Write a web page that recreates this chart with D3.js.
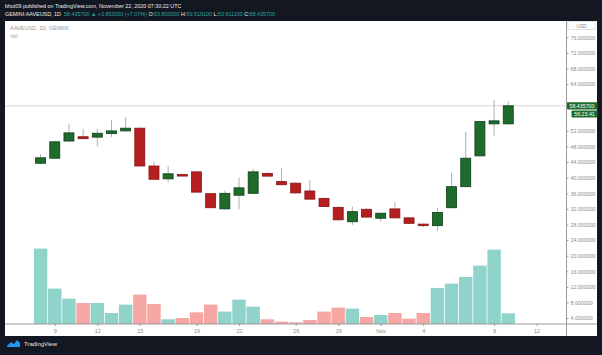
<!DOCTYPE html>
<html>
<head>
<meta charset="utf-8">
<script src="https://cdn.jsdelivr.net/npm/d3@7"></script>
<style>
  html, body { margin: 0; padding: 0; background: #131722; }
  svg { display: block; font-family: "Liberation Sans", Arial, sans-serif; }
</style>
</head>
<body>
<svg id="chart" width="602" height="355"></svg>
<script>
// ---------------- data ----------------
const dates = ["2020-10-08","2020-10-09","2020-10-10","2020-10-11","2020-10-12","2020-10-13","2020-10-14",
  "2020-10-15","2020-10-16","2020-10-17","2020-10-18","2020-10-19","2020-10-20","2020-10-21","2020-10-22",
  "2020-10-23","2020-10-24","2020-10-25","2020-10-26","2020-10-27","2020-10-28","2020-10-29","2020-10-30",
  "2020-10-31","2020-11-01","2020-11-02","2020-11-03","2020-11-04","2020-11-05","2020-11-06","2020-11-07",
  "2020-11-08","2020-11-09","2020-11-10"];
const open  = [43.7, 45.0, 49.4, 50.5, 50.4, 51.3, 52.0, 52.7, 43.0, 39.7, 40.8, 41.5, 35.9, 32.0, 35.5, 36.0, 41.1,
  39.0, 38.6, 36.6, 34.7, 32.4, 28.7, 31.9, 29.6, 32.0, 29.7, 28.1, 27.7, 32.3, 37.7, 45.6, 53.8, 53.8];
const high  = [46.0, 49.4, 53.8, 52.5, 52.5, 54.8, 55.5, 52.9, 44.1, 43.0, 41.0, 41.7, 36.1, 36.7, 40.0, 42.3, 41.4,
  42.4, 38.8, 39.4, 34.9, 32.6, 32.6, 32.2, 31.0, 33.7, 29.9, 28.3, 32.2, 41.3, 51.8, 54.5, 59.9, 59.5191];
const low   = [43.5, 44.9, 49.3, 49.9, 48.0, 50.4, 51.7, 42.9, 39.4, 38.8, 40.5, 36.1, 32.1, 31.9, 31.9, 35.8, 40.2,
  38.0, 35.9, 34.4, 32.4, 29.0, 27.9, 29.7, 28.7, 29.5, 28.1, 27.3, 26.3, 32.1, 37.5, 45.4, 50.8, 53.6111];
const close = [45.1, 49.2, 51.5, 50.0, 51.4, 52.0, 52.7, 43.0, 39.6, 41.0, 40.7, 36.3, 32.3, 36.0, 37.4, 41.5, 40.4,
  38.2, 36.1, 34.5, 32.6, 29.2, 31.3, 29.9, 30.9, 29.7, 28.3, 27.7, 31.1, 37.7, 45.0, 54.4, 54.58, 58.4357];
const volume = [150800, 70800, 50800, 42000, 42000, 22000, 38800, 58800, 40000, 9400, 12000, 23400, 38800, 24800,
  48800, 34800, 9400, 4800, 3400, 8000, 24800, 32800, 30800, 14000, 18000, 22000, 10800, 22000, 72000, 80800,
  94000, 116800, 148800, 21400];
const xTickDates  = ["2020-10-09","2020-10-12","2020-10-15","2020-10-19","2020-10-22","2020-10-26","2020-10-29",
  "2020-11-01","2020-11-04","2020-11-09","2020-11-12"];
const xTickLabels = ["9","12","15","19","22","26","29","Nov","4","9","12"];
const priceTicks  = [4, 8, 12, 16, 20, 24, 28, 32, 36, 40, 44, 48, 52, 64, 68, 72, 76];
const lastPrice = 58.4357;
const countdown = "56:23:41";

// ---------------- layout ----------------
const svg = d3.select("#chart");
const W = 602, H = 355;
const plotL = 5, plotR = 597, plotT = 21, plotB = 336;
const axisX = 566.5, axisY = 324;

svg.append("rect").attr("x", 0).attr("y", 0).attr("width", W).attr("height", H).attr("fill", "#131722");
svg.append("rect").attr("x", plotL).attr("y", plotT).attr("width", plotR - plotL).attr("height", plotB - plotT).attr("fill", "#ffffff");

const parse = d3.utcParse("%Y-%m-%d");
const x = d3.scaleUtc()
  .domain([parse("2020-10-08"), parse("2020-11-12")])
  .range([40.6, 536.6]);
const y = d3.scaleLinear().domain([4, 76]).range([318.1, 37.3]);
const yv = d3.scaleLinear().domain([0, 160000]).range([axisY, axisY - 80]);

const data = dates.map((d, i) => ({ date: parse(d), o: open[i], h: high[i], l: low[i], c: close[i], v: volume[i] }));

// price line
svg.append("line").attr("x1", plotL).attr("x2", axisX).attr("y1", y(lastPrice)).attr("y2", y(lastPrice))
  .attr("stroke", "#d6d6d6").attr("stroke-width", 1);

// volume bars
const volW = 13.4;
svg.append("g").selectAll("rect").data(data).join("rect")
  .attr("x", d => x(d.date) - volW / 2)
  .attr("y", d => yv(d.v))
  .attr("width", volW)
  .attr("height", d => axisY - yv(d.v))
  .attr("fill", d => d.c >= d.o ? "#8fd3cb" : "#f6a6a3");

// candles
const bodyW = 10;
const cg = svg.append("g");
cg.selectAll("line").data(data).join("line")
  .attr("x1", d => x(d.date)).attr("x2", d => x(d.date))
  .attr("y1", d => y(d.h)).attr("y2", d => y(d.l))
  .attr("stroke", "#b0b0b0").attr("stroke-width", 1);
cg.selectAll("rect").data(data).join("rect")
  .attr("x", d => x(d.date) - bodyW / 2)
  .attr("y", d => y(Math.max(d.o, d.c)))
  .attr("width", bodyW)
  .attr("height", d => Math.max(1.5, Math.abs(y(d.o) - y(d.c))))
  .attr("fill", d => d.c >= d.o ? "#1e6b2c" : "#b51f1f")
  .attr("stroke", d => d.c >= d.o ? "#0f3f18" : "#861313")
  .attr("stroke-width", 0.8);

// x axis
svg.append("line").attr("x1", plotL).attr("x2", plotR).attr("y1", axisY).attr("y2", axisY)
  .attr("stroke", "#9a9a9a").attr("stroke-width", 1);
const xAxis = d3.axisBottom(x)
  .tickValues(xTickDates.map(parse))
  .tickFormat((d, i) => xTickLabels[i])
  .tickSize(2).tickPadding(3);
const gx = svg.append("g").attr("transform", `translate(0,${axisY})`).call(xAxis);
gx.select(".domain").remove();
gx.selectAll(".tick line").attr("stroke", "#9a9a9a");
gx.selectAll(".tick text").attr("fill", "#8a8a8a").attr("font-size", 5.5)
  .attr("font-family", "Liberation Sans, Arial, sans-serif");

// y axis
svg.append("line").attr("x1", axisX).attr("x2", axisX).attr("y1", plotT).attr("y2", plotB)
  .attr("stroke", "#9a9a9a").attr("stroke-width", 1);
const yAxis = d3.axisRight(y).tickValues(priceTicks).tickFormat(d3.format(".6f")).tickSize(2).tickPadding(2);
const gy = svg.append("g").attr("transform", `translate(${axisX},0)`).call(yAxis);
gy.select(".domain").remove();
gy.selectAll(".tick line").attr("stroke", "#9a9a9a");
gy.selectAll(".tick text").attr("fill", "#8a8a8a").attr("font-size", 5.3)
  .attr("font-family", "Liberation Sans, Arial, sans-serif");

// USD box
svg.append("rect").attr("x", 568).attr("y", 21.5).attr("width", 27).attr("height", 8)
  .attr("fill", "#fff").attr("stroke", "#d0d0d0").attr("stroke-width", 0.6);
svg.append("text").attr("x", 581.5).attr("y", 27.5).attr("text-anchor", "middle")
  .attr("font-size", 4.8).attr("fill", "#8a8a8a").text("USD");

// last price labels
const ly = y(lastPrice);
svg.append("rect").attr("x", 567).attr("y", ly - 3.6).attr("width", 30.5).attr("height", 7.2)
  .attr("fill", "#1e6b2c").attr("rx", 0.8);
svg.append("text").attr("x", 582).attr("y", ly + 2).attr("text-anchor", "middle")
  .attr("font-size", 5.3).attr("fill", "#ffffff").text(d3.format(".6f")(lastPrice));
svg.append("rect").attr("x", 571.5).attr("y", ly + 4.8).attr("width", 26).attr("height", 6.8)
  .attr("fill", "#1e6b2c").attr("rx", 0.8);
svg.append("text").attr("x", 584.5).attr("y", ly + 10.2).attr("text-anchor", "middle")
  .attr("font-size", 5.3).attr("fill", "#ffffff").text(countdown);

// chart legend
svg.append("text").attr("x", 10).attr("y", 30).attr("font-size", 5.5).attr("fill", "#9a9a9a").text("AAVEUSD, 1D, GEMINI");
svg.append("text").attr("x", 10).attr("y", 37.5).attr("font-size", 5.5).attr("fill", "#9a9a9a").text("Vol");

// header
svg.append("text").attr("x", 5).attr("y", 8).attr("font-size", 5.4).attr("fill", "#ececec")
  .text("bhot09 published on TradingView.com, November 22, 2020 07:30:22 UTC");
const h2 = svg.append("text").attr("x", 5).attr("y", 16.3).attr("font-size", 5.4).attr("fill", "#ececec");
const teal = "#26a69a";
[["GEMINI:AAVEUSD, 1D  ", "#ececec"], ["58.435700 ▲ +3.853000 (+7.07%) ", teal],
 ["O:", "#ececec"], ["53.800000 ", teal], ["H:", "#ececec"], ["59.519100 ", teal],
 ["L:", "#ececec"], ["53.611100 ", teal], ["C:", "#ececec"], ["58.435700", teal]]
  .forEach(([t, c]) => h2.append("tspan").attr("fill", c).attr("xml:space", "preserve").text(t));

// footer logo
const logo = svg.append("g").attr("transform", "translate(7,340)");
logo.append("path").attr("d", "M0,6 L4,2 L7,4 L10,0 L13,3 L13,7 L0,7 Z").attr("fill", "#2196f3");
svg.append("text").attr("x", 24).attr("y", 346).attr("font-size", 6).attr("fill", "#e6e6e6").text("TradingView");
</script>
</body>
</html>
